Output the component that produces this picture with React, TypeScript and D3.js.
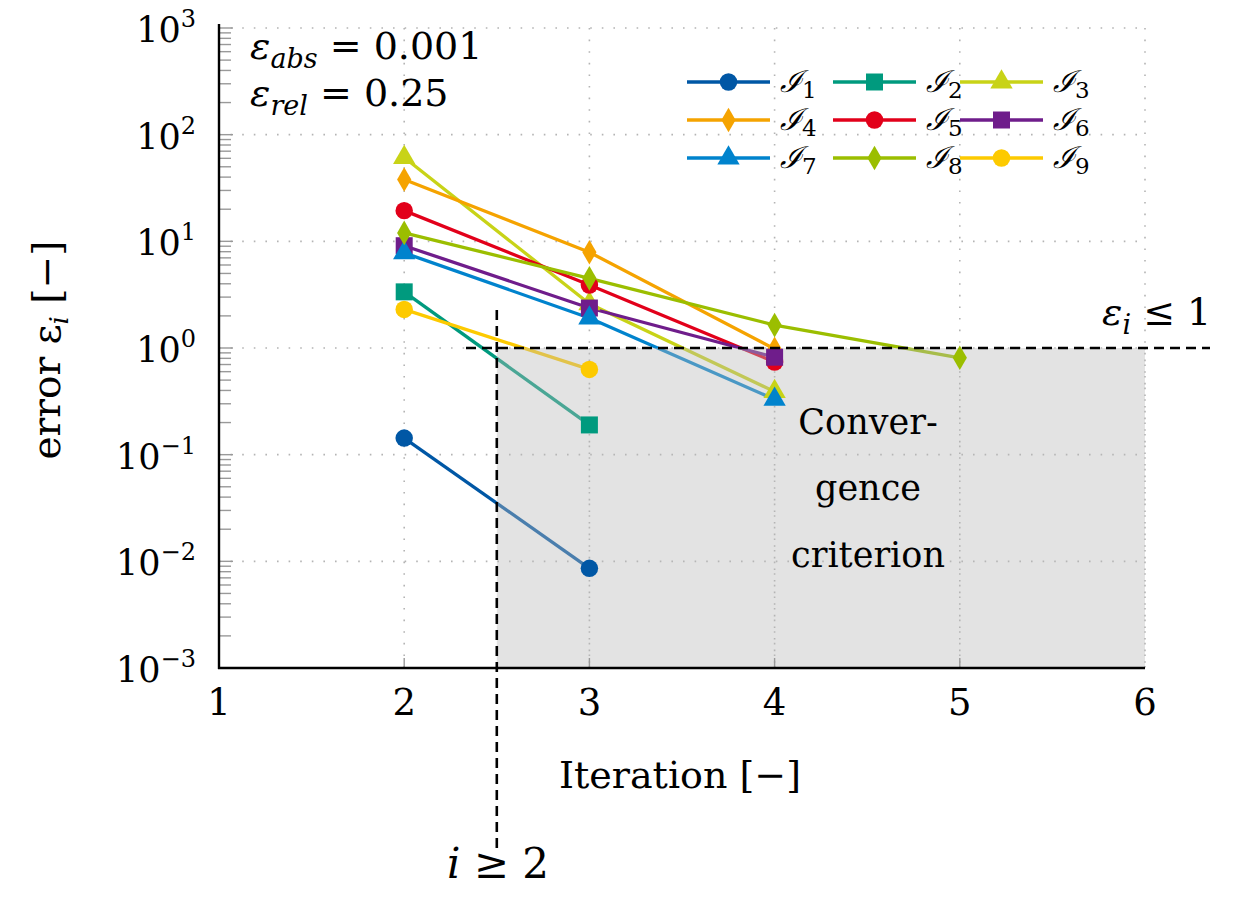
import React from "react";
import * as d3 from "d3";

const iterations = [1, 2, 3, 4, 5, 6];
const yTickExponents = [-3, -2, -1, 0, 1, 2, 3];

type Series = { name: string; sub: string; color: string; marker: string; x: number[]; y: number[] };

const I1x = [2, 3];
const I1y = [0.143, 0.0086];
const I2x = [2, 3];
const I2y = [3.36, 0.19];
const I3x = [2, 3, 4];
const I3y = [61, 2.6, 0.39];
const I4x = [2, 3, 4];
const I4y = [38, 7.9, 0.98];
const I5x = [2, 3, 4];
const I5y = [19.4, 3.9, 0.74];
const I6x = [2, 3, 4];
const I6y = [9.1, 2.37, 0.82];
const I7x = [2, 3, 4];
const I7y = [7.8, 1.91, 0.33];
const I8x = [2, 3, 4, 5];
const I8y = [12, 4.5, 1.64, 0.81];
const I9x = [2, 3];
const I9y = [2.3, 0.63];

const series: Series[] = [
  { name: "ℐ", sub: "1", color: "#0057a5", marker: "circle", x: I1x, y: I1y },
  { name: "ℐ", sub: "2", color: "#009a7e", marker: "square", x: I2x, y: I2y },
  { name: "ℐ", sub: "3", color: "#c8d317", marker: "triangle", x: I3x, y: I3y },
  { name: "ℐ", sub: "4", color: "#f5a300", marker: "diamond", x: I4x, y: I4y },
  { name: "ℐ", sub: "5", color: "#e2001a", marker: "circle", x: I5x, y: I5y },
  { name: "ℐ", sub: "6", color: "#6f1d8b", marker: "square", x: I6x, y: I6y },
  { name: "ℐ", sub: "7", color: "#0083cd", marker: "triangle", x: I7x, y: I7y },
  { name: "ℐ", sub: "8", color: "#9bbe00", marker: "diamond", x: I8x, y: I8y },
  { name: "ℐ", sub: "9", color: "#fdca00", marker: "circle", x: I9x, y: I9y },
];

const W = 1233;
const H = 910;
const xS = d3.scaleLinear().domain([1, 6]).range([219, 1145]);
const yS = d3.scaleLog().domain([1e-3, 1e3]).range([668, 28]);

function symPath(kind: string): string {
  const map: Record<string, [d3.SymbolType, number]> = {
    circle: [d3.symbolCircle, 240],
    square: [d3.symbolSquare, 289],
    triangle: [d3.symbolTriangle, 215],
    diamond: [d3.symbolDiamond, 175],
  };
  const [t, s] = map[kind];
  return d3.symbol().type(t).size(s)() || "";
}

const serif = "'DejaVu Serif', 'Liberation Serif', serif";

export default function App() {
  const line = d3
    .line<[number, number]>()
    .x((d) => xS(d[0]))
    .y((d) => yS(d[1]));

  const minorTicks: number[] = [];
  for (let e = -3; e < 3; e++) {
    for (let m = 2; m <= 9; m++) minorTicks.push(m * Math.pow(10, e));
  }

  const legendCols = [687, 833, 960];
  const legendRows = [82, 120, 158];
  const lineLen = 83;

  const x0 = xS(1);
  const x1 = xS(6);
  const yTop = yS(1e3);
  const yBot = yS(1e-3);

  return (
    <div style={{ position: "absolute", left: 0, top: 0 }}>
      <svg width={W} height={H} viewBox={`0 0 ${W} ${H}`} style={{ display: "block", background: "#fff" }}>
        {/* grid */}
        <g stroke="#b4b4b4" strokeWidth={1.6} strokeDasharray="1.6 10">
          {iterations.slice(1).map((v) => (
            <line key={"gx" + v} x1={xS(v)} x2={xS(v)} y1={yTop} y2={yBot} />
          ))}
          {yTickExponents.slice(1).map((e) => (
            <line key={"gy" + e} x1={x0} x2={x1} y1={yS(Math.pow(10, e))} y2={yS(Math.pow(10, e))} />
          ))}
        </g>

        {/* series lines */}
        {series.map((s) => (
          <path
            key={"l" + s.sub}
            d={line(s.x.map((v, i) => [v, s.y[i]] as [number, number])) || ""}
            fill="none"
            stroke={s.color}
            strokeWidth={3.3}
            strokeLinejoin="round"
          />
        ))}

        {/* convergence region overlay */}
        <rect x={xS(2.5)} y={yS(1)} width={x1 - xS(2.5)} height={yBot - yS(1)} fill="#b9b9b9" fillOpacity={0.4} />
        <g stroke="#b4b4b4" strokeWidth={1.6} strokeDasharray="1.6 10">
          {iterations.slice(2).map((v) => (
            <line key={"gx2" + v} x1={xS(v)} x2={xS(v)} y1={yS(1)} y2={yBot} />
          ))}
        </g>

        {/* markers */}
        {series.map((s) => (
          <g key={"m" + s.sub} fill={s.color}>
            {s.x.map((v, i) => (
              <path key={i} d={symPath(s.marker)} transform={`translate(${xS(v)},${yS(s.y[i])})`} />
            ))}
          </g>
        ))}

        {/* dashed threshold lines */}
        <line x1={466} x2={1210} y1={yS(1)} y2={yS(1)} stroke="#000" strokeWidth={2.6} strokeDasharray="10 6" />
        <line x1={xS(2.5)} x2={xS(2.5)} y1={310} y2={852} stroke="#000" strokeWidth={2.6} strokeDasharray="10 6" />

        {/* y minor ticks */}
        <g stroke="#999" strokeWidth={1.4}>
          {minorTicks.map((v, i) => (
            <line key={"mt" + i} x1={x0} x2={x0 + 12} y1={yS(v)} y2={yS(v)} />
          ))}
          {yTickExponents.map((e) => (
            <line key={"Mt" + e} x1={x0} x2={x0 + 14} y1={yS(Math.pow(10, e))} y2={yS(Math.pow(10, e))} />
          ))}
          {iterations.slice(1, 5).map((v) => (
            <line key={"xt" + v} x1={xS(v)} x2={xS(v)} y1={yBot} y2={yBot - 10} />
          ))}
        </g>

        {/* axes */}
        <line x1={x0} x2={x0} y1={yTop - 4} y2={yBot + 1} stroke="#000" strokeWidth={2.4} />
        <line x1={x0 - 1} x2={x1} y1={yBot} y2={yBot} stroke="#000" strokeWidth={2.4} />

        {/* y tick labels */}
        {yTickExponents.map((e) => (
          <text key={"yl" + e} x={196} y={yS(Math.pow(10, e)) + 14} textAnchor="end" fontFamily={serif} fontSize={35} fill="#000">
            10
            <tspan dy={-15} fontSize={24}>
              {e < 0 ? "−" + Math.abs(e) : String(e)}
            </tspan>
          </text>
        ))}

        {/* x tick labels */}
        {iterations.map((v) => (
          <text key={"xl" + v} x={xS(v)} y={715} textAnchor="middle" fontFamily={serif} fontSize={37} fill="#000">
            {v}
          </text>
        ))}

        {/* axis labels */}
        <text x={680} y={788} textAnchor="middle" fontFamily={serif} fontSize={38} fill="#000">
          Iteration [−]
        </text>
        <text transform="translate(60,350) rotate(-90)" textAnchor="middle" fontFamily={serif} fontSize={39} fill="#000">
          error ε
          <tspan fontSize={26} dy={8} fontStyle="italic">i</tspan>
          <tspan dy={-8}> [−]</tspan>
        </text>

        {/* annotations */}
        <text x={250} y={59} fontFamily={serif} fontSize={38} fill="#000">
          <tspan fontStyle="italic">ε</tspan>
          <tspan fontSize={27} dy={9} fontStyle="italic">abs</tspan>
          <tspan dy={-9}> = 0.001</tspan>
        </text>
        <text x={250} y={106} fontFamily={serif} fontSize={38} fill="#000">
          <tspan fontStyle="italic">ε</tspan>
          <tspan fontSize={27} dy={9} fontStyle="italic">rel</tspan>
          <tspan dy={-9}> = 0.25</tspan>
        </text>
        <text x={1102} y={325} fontFamily={serif} fontSize={38} fill="#000">
          <tspan fontStyle="italic">ε</tspan>
          <tspan fontSize={27} dy={9} fontStyle="italic">i</tspan>
          <tspan dy={-9}> ≤ 1</tspan>
        </text>
        <text x={498} y={878} textAnchor="middle" fontFamily={serif} fontSize={42} fill="#000">
          <tspan fontStyle="italic">i</tspan> ≥ 2
        </text>

        <g fontFamily={serif} fontSize={35} fill="#000" textAnchor="middle">
          <text x={868} y={434}>Conver-</text>
          <text x={868} y={500}>gence</text>
          <text x={868} y={567}>criterion</text>
        </g>

        {/* legend */}
        {series.map((s, i) => {
          const col = i % 3;
          const row = Math.floor(i / 3);
          const lx = legendCols[col];
          const ly = legendRows[row];
          return (
            <g key={"lg" + s.sub}>
              <line x1={lx} x2={lx + lineLen} y1={ly} y2={ly} stroke={s.color} strokeWidth={3.3} />
              <path d={symPath(s.marker)} transform={`translate(${lx + lineLen / 2},${ly})`} fill={s.color} />
              <text x={lx + lineLen + 10} y={ly + 10} fontFamily="'DejaVu Serif', serif" fontStyle="italic" fontSize={30} fill="#000">
                {s.name}
                <tspan fontSize={23} fontStyle="normal" dy={6}>{s.sub}</tspan>
              </text>
            </g>
          );
        })}
      </svg>
    </div>
  );
}
